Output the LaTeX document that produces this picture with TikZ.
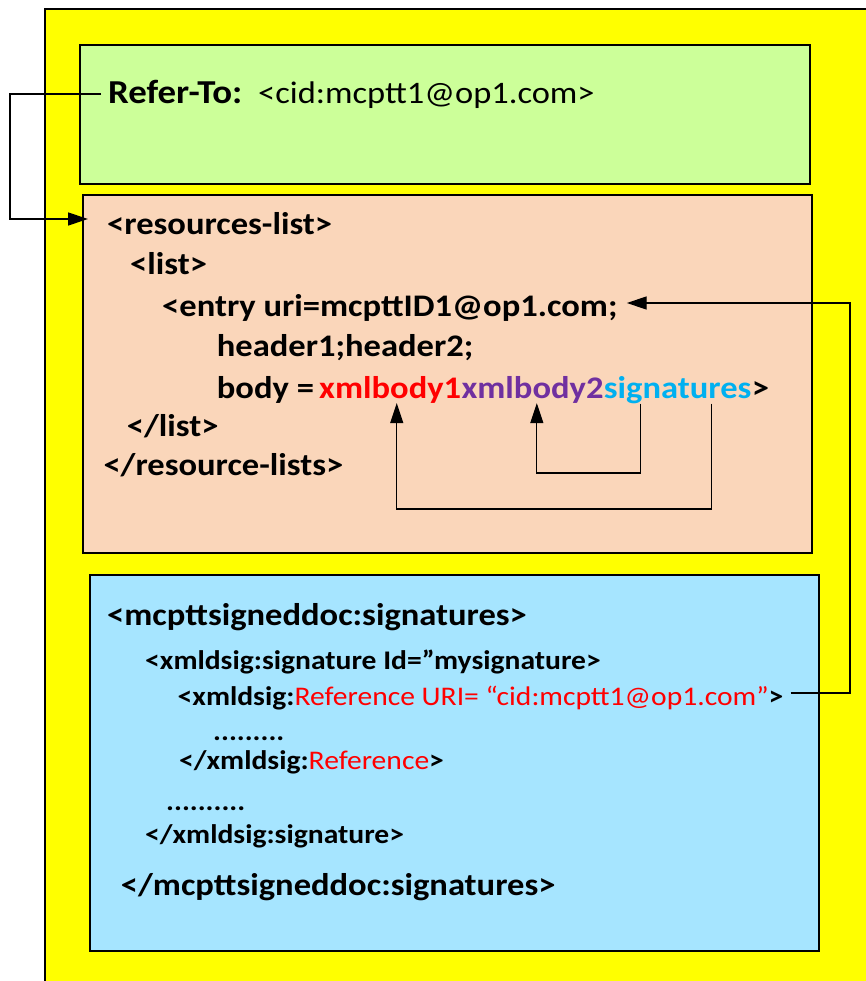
\documentclass[tikz,border=0pt]{standalone}
\usepackage{fontspec}
\setmainfont{Carlito}[FakeStretch=1.1]
\usetikzlibrary{arrows.meta,calc}
\definecolor{ylw}{RGB}{255,255,0}
\definecolor{grn}{RGB}{204,255,153}
\definecolor{pch}{RGB}{250,214,186}
\definecolor{blu}{RGB}{166,229,255}
\definecolor{prp}{RGB}{112,48,160}
\definecolor{cyn}{RGB}{0,176,240}
\definecolor{rd}{RGB}{255,0,0}
\begin{document}
\begin{tikzpicture}[x=1pt,y=-1pt,
  box/.style={draw=black, line width=1.3pt},
  bt/.style={inner sep=0pt, anchor=base west, font=\fontsize{31.4}{36}\selectfont\bfseries},
  rt/.style={inner sep=0pt, anchor=base west, font=\fontsize{31.3}{36}\selectfont},
  bs/.style={inner sep=0pt, anchor=base west, font=\fontsize{26.9}{30}\selectfont\bfseries},
  conn/.style={draw=black, line width=1.3pt},
  arr/.style={conn, -{Triangle[length=20pt,width=13pt]}}]
\useasboundingbox (0,0) rectangle (866,981);
\clip (0,0) rectangle (866,981);
\fill[white] (0,0) rectangle (866,981);
\fill[ylw] (45,9) rectangle (890,1000);
\draw[line width=1.3pt] (45,1000) -- (45,9) -- (890,9);
\draw[box, fill=grn] (80,45) rectangle (810,184);
\draw[box, fill=pch] (83,195) rectangle (812,553);
\draw[box, fill=blu] (90,575) rectangle (819,951);

% green
\node[bt, font=\fontsize{33.5}{36}\selectfont\bfseries] (refer) at (108,103.3) {Refer-To:};
\node[rt] (cid) at (258,103.3) {<cid:mcptt1@op1.com>};

% peach
\node[bt] (reslist) at (107,235) {<resources-list>};
\node[bt] (list) at (130,275) {<list>};
\node[bt] (entry) at (162,316.7) {<entry uri=mcpttID1@op1.com;};
\node[bt] (hdr) at (216.7,356.7) {header1;header2;};
\node[bt] (body) at (216.7,398) {body =};
\node[bt, text=rd] (xb1) at (319,398) {xmlbody1};
\node[bt, text=prp] (xb2) at (xb1.base east) {xmlbody2};
\node[bt, text=cyn] (sig) at (xb2.base east) {signatures};
\node[bt] (gt) at (sig.base east) {>};
\node[bt] (elist) at (126.7,436.7) {</list>};
\node[bt] (erl) at (103.3,475) {</resource-lists>};

% blue
\node[bt] (msd) at (107,625) {<mcpttsigneddoc:signatures>};
\node[bs] (xsig) at (145,669) {<xmldsig:signature Id=”mysignature>};
\node[bs] (xref) at (177.5,705) {<xmldsig:\textcolor{rd}{\mdseries Reference URI= “cid:mcptt1@op1.com”}>};
\node[bs] (dots1) at (213,740) {.........};
\node[bs] (xeref) at (179,769) {</xmldsig:\textcolor{rd}{\mdseries Reference}>};
\node[bs] (dots2) at (166,810) {..........};
\node[bs] (xesig) at (145,843) {</xmldsig:signature>};
\node[bt] (emsd) at (120.7,895) {</mcpttsigneddoc:signatures>};

% left connector
\coordinate (l1) at (10,94);
\coordinate (l2) at (10,219);
\draw[arr] ([xshift=-7pt]refer.west |- l1) -- (l1) -- (l2) -- ([xshift=-19pt]reslist.west |- l2);

% right connector
\coordinate (r1) at (850,693);
\coordinate (r2) at (850,303);
\draw[arr] ([xshift=7pt]xref.east |- r1) -- (r1) -- (r2) -- ([xshift=9pt]entry.east |- r2);

% inner arrows
\coordinate (as) at ($(sig.south west)!0.25!(sig.south east)$);
\coordinate (ae) at ($(xb2.south west)!0.53!(xb2.south east)$);
\draw[arr] (as) -- (as |- 0,473) -- (ae |- 0,473) -- (ae);
\coordinate (bs) at ($(sig.south west)!0.73!(sig.south east)$);
\coordinate (be) at ($(xb1.south west)!0.546!(xb1.south east)$);
\draw[arr] (bs) -- (bs |- 0,509) -- (be |- 0,509) -- (be);
\end{tikzpicture}
\end{document}
